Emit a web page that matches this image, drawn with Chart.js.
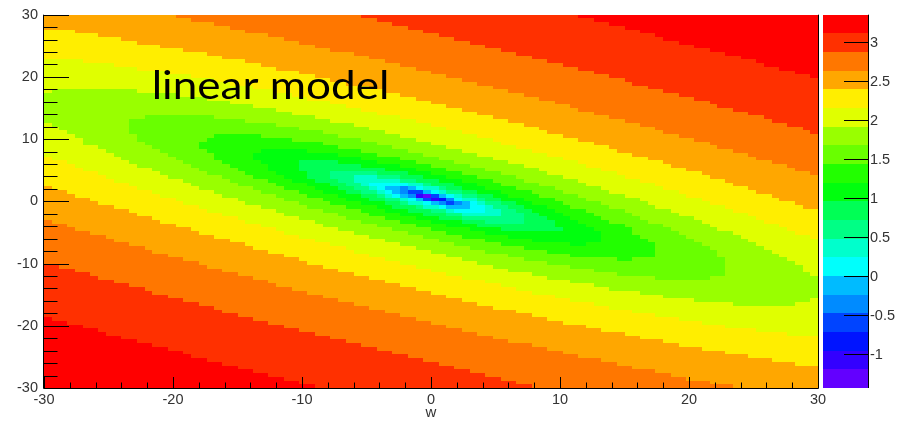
<!DOCTYPE html>
<html><head><meta charset="utf-8">
<script src="https://cdn.jsdelivr.net/npm/chart.js@4.4.1/dist/chart.umd.min.js"></script>
<style>html,body{margin:0;padding:0;background:#fff;overflow:hidden}canvas{display:block}</style>
</head><body>
<canvas id="c" width="906" height="423"></canvas>
<script>
// Histogram binning: w on x, b on y
const W_RANGE = [-30, 30];
const W_BINS = 100;
const B_RANGE = [-30, 30];
const B_BINS = 100;
// log10(loss) range covered by the colour scale (20 contour bands)
const Z_RANGE = [-1.43, 3.345];
const axisTicks = [-30, -20, -10, 0, 10, 20, 30];
const paletteTicks = [-1, -0.5, 0, 0.5, 1, 1.5, 2, 2.5, 3];
const bandColors = ['#6300ff','#3300ff','#0014ff','#0044ff','#008bff','#00bbff','#00fffc','#00ffcc','#00ff85','#00ff55',
                    '#00ff0e','#22ff00','#69ff00','#99ff00','#e0ff00','#ffee00','#ffa700','#ff7700','#ff3000','#ff0000'];

// Contour band of every bin, one string per row from b = 30 down to b = -30.
// Each run: band letter (A = lowest … T = highest) + index of its first w-bin.
const bandRows = [
  "Q0 R17 S41 T69",
  "Q0 R19 S43 T71",
  "Q0 R22 S45 T73",
  "Q0 R24 S47 T75",
  "P0 Q4 R26 S49 T77",
  "P0 Q7 R29 S51 T79",
  "P0 Q10 R31 S53 T80",
  "P0 Q12 R33 S55 T82",
  "P0 Q15 R35 S57 T84",
  "P0 Q18 R37 S59 T86",
  "P0 Q21 R40 S61 T88",
  "P0 Q23 R42 S63 T90",
  "O0 P5 Q26 R44 S65 T92",
  "O0 P9 Q28 R46 S67 T93",
  "O0 P12 Q30 R48 S69 T95",
  "O0 P16 Q33 R50 S71 T97",
  "O0 P19 Q35 R52 S73 T99",
  "O0 P22 Q37 R54 S75",
  "O0 P24 Q39 R56 S76",
  "O0 P27 Q42 R58 S78",
  "O0 N1 O12 P30 Q44 R60 S80",
  "N0 O17 P32 Q46 R62 S82",
  "N0 O21 P34 Q48 R64 S84",
  "N0 O24 P37 Q50 R66 S86",
  "N0 O27 P39 Q52 R68 S87",
  "N0 O30 P41 Q54 R69 S89",
  "N0 O32 P43 Q56 R71 S91",
  "N0 M13 N22 O35 P46 Q58 R73 S93",
  "N0 M11 N26 O37 P48 Q60 R75 S94",
  "O0 N1 M11 N30 O40 P50 Q62 R77 S96",
  "O0 N2 M11 N33 O42 P52 Q64 R79 S98",
  "O0 N3 M11 N36 O44 P54 Q65 R80 S99",
  "O0 N4 M12 L22 M28 N38 O46 P56 Q67 R82",
  "O0 N5 M12 L21 M32 N41 O48 P58 Q69 R84",
  "O0 N5 M13 L20 M36 N43 O50 P59 Q71 R86",
  "O0 N7 M14 L20 M38 N45 O52 P61 Q73 R87",
  "O0 N8 M15 L21 K28 L34 M41 N47 O54 P63 Q74 R89",
  "O0 N9 M16 L22 K27 L38 M43 N49 O56 P65 Q76 R91",
  "P0 O1 N10 M17 L22 K27 L41 M46 N51 O58 P67 Q78 R92",
  "P0 O3 N11 M18 L23 K28 J33 K38 L43 M48 N53 O60 P69 Q80 R94",
  "P0 O4 N12 M19 L24 K29 J33 K41 L46 M50 N55 O62 P70 Q81 R96",
  "P0 O5 N14 M20 L25 K29 J33 K44 L48 M52 N57 O64 P72 Q83 R97",
  "P0 O7 N15 M21 L26 K30 J34 I37 J43 K47 L50 M54 N59 O65 P74 Q85 R99",
  "P0 O8 N16 M23 L27 K31 J34 I37 H40 I43 J46 K49 L52 M56 N61 O67 P75 Q86",
  "P0 O9 N18 M24 L29 K32 J35 I38 H40 I46 J48 K51 L54 M58 N62 O69 P77 Q88",
  "P0 O11 N19 M25 L30 K34 J37 I39 H41 G42 H47 I49 J50 K53 L56 M59 N64 O70 P79 Q89",
  "Q0 P1 O12 N20 M27 L31 K35 J38 I40 H42 G43 F44 E46 F47 G48 H49 I51 J52 K54 L57 M61 N66 O72 P80 Q91",
  "Q0 P3 O14 N22 M28 L33 K36 J39 I41 H43 G44 F45 E46 D47 F49 G50 H51 I52 J54 K56 L59 M63 N67 O73 P82 Q92",
  "Q0 P4 O15 N23 M30 L34 K38 J41 I43 H44 G45 F46 E47 B48 A49 D50 F51 G52 H53 I54 J56 K58 L60 M64 N69 O75 P83 Q94",
  "Q0 P6 O17 N25 M31 L36 K39 J42 I44 H46 G47 F48 D49 B50 C51 E52 G53 H54 I56 J57 K59 L62 M66 N70 O77 P85 Q95",
  "Q0 P7 O18 N26 M33 L37 K41 J44 I46 H47 G49 F50 E51 D52 E53 F54 G55 H56 I57 J59 K61 L63 M67 N72 O78 P86 Q97",
  "Q0 P9 O20 N28 M34 L39 K43 J45 I48 H49 G51 F52 G55 H57 I58 J60 K62 L65 M68 N73 O79 P88 Q98",
  "Q0 P11 O21 N30 M36 L41 K44 J47 I50 H52 G53 H57 I59 J61 K63 L66 M70 N75 O81 P89",
  "Q0 P12 O23 N31 M38 L42 K46 J49 I52 H54 I59 J62 K64 L67 M71 N76 O82 P91",
  "Q0 P14 O25 N33 M39 L44 K48 J51 I54 J62 K65 L68 M72 N77 O84 P92",
  "R0 Q1 P15 O26 N35 M41 L46 K50 J54 I57 J62 K66 L69 M73 N78 O85 P93",
  "R0 Q3 P17 O28 N36 M43 L48 K52 J56 K66 L70 M75 N80 O86 P95",
  "R0 Q4 P19 O30 N38 M45 L50 K55 J59 K67 L71 M76 N81 O87 P96",
  "R0 Q6 P20 O31 N40 M47 L52 K57 L72 M76 N82 O89 P97",
  "R0 Q8 P22 O33 N42 M49 L54 K60 L72 M77 N83 O90 P99",
  "R0 Q9 P24 O35 N44 M51 L57 K63 L72 M78 N84 O91",
  "R0 Q11 P26 O37 N46 M53 L59 K68 L70 M79 N85 O92",
  "R0 Q13 P27 O39 N48 M55 L62 M79 N86 O93",
  "R0 Q14 P29 O40 N50 M57 L65 M79 N87 O94",
  "R0 Q16 P31 O42 N52 M60 L68 M79 N87 O95",
  "R0 Q18 P33 O44 N54 M62 L74 M76 N88 O96",
  "R0 Q20 P34 O46 N56 M65 N88 O97",
  "S0 R2 Q21 P36 O48 N58 M68 N88 O98",
  "S0 R4 Q23 P38 O50 N60 M71 N88 O98",
  "S0 R6 Q25 P40 O52 N63 M74 N88 O99",
  "S0 R7 Q27 P42 O54 N65 M79 N86",
  "S0 R9 Q29 P44 O57 N68",
  "S0 R11 Q30 P46 O59 N71",
  "S0 R13 Q32 P48 O61 N73",
  "S0 R14 Q34 P50 O63 N77",
  "S0 R16 Q36 P52 O66 N80",
  "S0 R18 Q38 P54 O68 N84 O99",
  "S0 R20 Q40 P56 O71 N89 O97",
  "S0 R22 Q42 P58 O73",
  "S0 R23 Q44 P61 O76",
  "S0 R25 Q46 P63 O79",
  "T0 S1 R27 Q48 P65 O82",
  "T0 S3 R29 Q50 P67 O85",
  "T0 S5 R31 Q52 P70 O88",
  "T0 S7 R33 Q54 P72 O92",
  "T0 S8 R35 Q56 P75 O96",
  "T0 S10 R37 Q58 P77",
  "T0 S12 R39 Q60 P80",
  "T0 S14 R41 Q63 P82",
  "T0 S16 R43 Q65 P85",
  "T0 S18 R45 Q67 P88",
  "T0 S19 R47 Q69 P91",
  "T0 S21 R49 Q72 P94",
  "T0 S23 R51 Q74 P97",
  "T0 S25 R53 Q76",
  "T0 S27 R55 Q79",
  "T0 S29 R57 Q81",
  "T0 S31 R59 Q83",
  "T0 S33 R61 Q86",
  "T0 S35 R63 Q89"
];

const AXIS_FONT = {family: "'Liberation Sans', Arial, sans-serif", size: 14.5};
const LABEL_COLOR = '#333';

const contourPlot = {
  id: 'contourPlot',
  beforeDatasetsDraw(chart) {
    const {ctx, scales: {x, y}} = chart;
    const cw = (W_RANGE[1] - W_RANGE[0]) / W_BINS;
    const ch = (B_RANGE[1] - B_RANGE[0]) / B_BINS;
    ctx.save();
    bandRows.forEach((row, r) => {
      const yTop = Math.round(y.getPixelForValue(B_RANGE[1] - r * ch));
      const yBot = Math.round(y.getPixelForValue(B_RANGE[1] - (r + 1) * ch));
      const runs = row.split(' ').map(t => [t.charCodeAt(0) - 65, parseInt(t.slice(1), 10)]);
      runs.forEach(([band, start], i) => {
        const end = i + 1 < runs.length ? runs[i + 1][1] : W_BINS;
        const x0 = Math.round(x.getPixelForValue(W_RANGE[0] + start * cw));
        const x1 = Math.round(x.getPixelForValue(W_RANGE[0] + end * cw));
        ctx.fillStyle = bandColors[band];
        ctx.fillRect(x0, yTop, x1 - x0, yBot - yTop);
      });
    });
    ctx.restore();
  },
  afterDraw(chart) {
    const {ctx, chartArea: a, scales: {x, y, z}} = chart;
    ctx.save();
    ctx.strokeStyle = '#000';
    ctx.lineWidth = 1;
    // frame: left, bottom, right
    ctx.beginPath();
    ctx.moveTo(a.left - 0.5, a.top); ctx.lineTo(a.left - 0.5, a.bottom + 0.5);
    ctx.lineTo(a.right + 0.5, a.bottom + 0.5); ctx.lineTo(a.right + 0.5, a.top);
    ctx.stroke();
    // tick marks pointing into the plot, minor every 2
    ctx.beginPath();
    for (let v = B_RANGE[0]; v <= B_RANGE[1]; v += 2) {
      const py = Math.round(y.getPixelForValue(v)) + 0.5;
      ctx.moveTo(a.left, py); ctx.lineTo(a.left + (v % 10 === 0 ? 25 : 13.5), py);
    }
    for (let v = W_RANGE[0]; v <= W_RANGE[1]; v += 2) {
      const px = Math.round(x.getPixelForValue(v)) + 0.5;
      ctx.moveTo(px, a.bottom); ctx.lineTo(px, a.bottom - (v % 10 === 0 ? 11 : 5.5));
    }
    ctx.stroke();
    // colour scale
    const cx0 = a.right + 5, cx1 = a.right + 50;
    const dz = (Z_RANGE[1] - Z_RANGE[0]) / bandColors.length;
    bandColors.forEach((col, k) => {
      const yt = Math.round(z.getPixelForValue(Z_RANGE[0] + (k + 1) * dz));
      const yb = Math.round(z.getPixelForValue(Z_RANGE[0] + k * dz));
      ctx.fillStyle = col;
      ctx.fillRect(cx0, yt, cx1 - cx0, yb - yt);
    });
    ctx.beginPath();
    ctx.moveTo(cx1 + 0.5, a.top); ctx.lineTo(cx1 + 0.5, a.bottom);
    paletteTicks.forEach(t => {
      const py = Math.round(z.getPixelForValue(t)) + 0.5;
      ctx.moveTo(cx1, py); ctx.lineTo(cx1 - 24, py);
    });
    ctx.stroke();
    ctx.fillStyle = LABEL_COLOR;
    ctx.font = `${AXIS_FONT.size}px ${AXIS_FONT.family}`;
    ctx.textAlign = 'left';
    ctx.textBaseline = 'middle';
    paletteTicks.forEach(t => ctx.fillText(String(t), cx1 + 2, z.getPixelForValue(t) + 1));
    // plot annotation
    ctx.fillStyle = '#000';
    ctx.font = "39px Lato, 'Open Sans', sans-serif";
    ctx.textBaseline = 'alphabetic';
    ctx.translate(x.getPixelForValue(-21.65), y.getPixelForValue(16.5));
    ctx.scale(1.13, 1);
    ctx.fillText('linear model', 0, 0);
    ctx.restore();
  }
};

new Chart(document.getElementById('c'), {
  type: 'scatter',
  data: {datasets: []},
  options: {
    responsive: false,
    animation: false,
    layout: {padding: {top: 10, right: 88, left: 0, bottom: 0}},
    plugins: {legend: {display: false}, tooltip: {enabled: false}},
    scales: {
      x: {
        type: 'linear', min: W_RANGE[0], max: W_RANGE[1],
        afterBuildTicks: s => { s.ticks = axisTicks.map(v => ({value: v})); },
        ticks: {font: AXIS_FONT, color: LABEL_COLOR, padding: 3, maxRotation: 0},
        grid: {display: false, drawTicks: false},
        border: {display: false},
        title: {display: true, text: 'w', font: {...AXIS_FONT, size: 15}, color: LABEL_COLOR, padding: {top: 0, bottom: 1}},
        afterFit: s => { s.height = 35; }
      },
      y: {
        type: 'linear', min: B_RANGE[0], max: B_RANGE[1],
        afterBuildTicks: s => { s.ticks = axisTicks.map(v => ({value: v})); },
        ticks: {font: AXIS_FONT, color: LABEL_COLOR, padding: 6},
        grid: {display: false, drawTicks: false},
        border: {display: false},
        afterFit: s => { s.width = 44; }
      },
      z: {type: 'linear', display: false, position: 'right', min: Z_RANGE[0], max: Z_RANGE[1]}
    }
  },
  plugins: [contourPlot]
});
</script></body></html>
